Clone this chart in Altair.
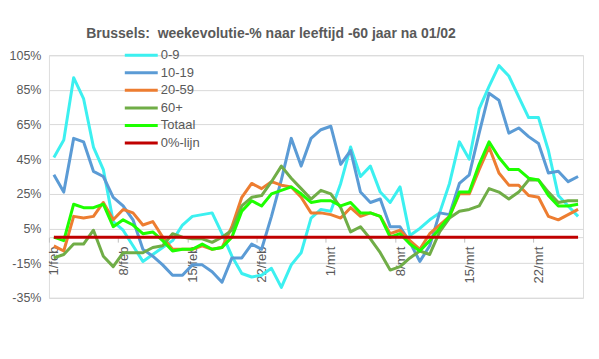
import altair as alt
import pandas as pd

# categories (one per day, 1 feb - 26 mrt)
dates = [f"{d}/feb" for d in range(1, 29)] + [f"{d}/mrt" for d in range(1, 27)]
tick_labels = ["1/feb", "8/feb", "15/feb", "22/feb", "1/mrt", "8/mrt", "15/mrt", "22/mrt"]
y_ticks = [-35, -15, 5, 25, 45, 65, 85, 105]

series_names = ["0-9", "10-19", "20-59", "60+", "Totaal", "0%-lijn"]
series_colors = ["#3CF0F0", "#5B9BD5", "#ED7D31", "#70AD47", "#1EFF00", "#C00000"]

v_0_9 = [46, 56, 92, 80, 52, 39, 9, 4, -5, -14, -10, -6, -2, 7, 12, 13, 14, 2, -11, -21,
         -23, -22, -18, -29, -16, -9, 11, 16, 15, 31, 52, 35, 41, 26, 20, 29, 1, 5, 10, 14,
         31, 55, 45, 74, 87, 99, 93, 81, 69, 69, 50, 24, 18, 12]
v_10_19 = [36, 26, 57, 55, 38, 35, 23, 18, 10, -7, -11, -16, -22, -22, -16, -16, -20, -26, -12, -12,
           -4, -7, 12, 33, 57, 41, 57, 62, 64, 42, 50, 26, 20, 22, 6, 6, -3, -14, -5, 14,
           13, 31, 36, 60, 83, 79, 60, 63, 58, 54, 37, 38, 32, 35]
v_20_59 = [-5, -8, 12, 11, 12, 20, 10, 16, 14, 7, 9, 0, -7, -7, -7, -5, -7, -6, 6, 23,
           31, 28, 32, 30, 29, 23, 14, 14, 13, 11, 17, 12, 14, 12, 2, 4, -2, -7, 2, 7,
           12, 25, 25, 39, 52, 37, 30, 30, 24, 23, 12, 10, 13, 16]
v_60p = [-12, -10, -4, -4, 4, -11, -17, -9, -9, -9, -6, -5, 2, 0, -1, -1, -3, 0, 4, 18,
         23, 24, 32, 41, 34, 28, 22, 27, 25, 17, 3, 6, -1, -9, -19, -17, -12, -8, -10, 3,
         11, 15, 16, 18, 28, 26, 22, 26, 33, 33, 26, 20, 21, 21]
v_totaal = [0, -2, 19, 17, 17, 19, 6, 10, 7, 2, 3, -2, -8, -7, -7, -4, -7, -6, 0, 15,
            21, 18, 25, 27, 29, 25, 20, 21, 21, 18, 20, 14, 14, 12, 0, 2, -4, -8, -2, 5,
            12, 26, 26, 42, 55, 46, 39, 39, 34, 33, 24, 18, 18, 19]
# 0%-lijn: from first to last day
zero_dates = ["1/feb", "26/mrt"]
zero_vals = [0, 0]

rows = []
for name, vals in zip(series_names[:5], [v_0_9, v_10_19, v_20_59, v_60p, v_totaal]):
    for d, v in zip(dates, vals):
        rows.append({"datum": d, "serie": name, "waarde": v})
for d, v in zip(zero_dates, zero_vals):
    rows.append({"datum": d, "serie": "0%-lijn", "waarde": v})
df = pd.DataFrame(rows)

FONT = "Liberation Sans"
GREY = "#595959"
H = 243

chart = alt.Chart(df).mark_line(strokeJoin="round").encode(
    x=alt.X("datum:O", sort=dates,
            scale=alt.Scale(type="point", padding=0.5),
            axis=alt.Axis(values=tick_labels, title=None, grid=False,
                          labelAngle=-90, labelAlign="right", labelBaseline="middle",
                          labelFont=FONT, labelFontSize=13, labelColor=GREY,
                          offset=-H * 35 / 140, domainColor="#d9d9d9",
                          tickColor="#bfbfbf", tickSize=5, tickOffset=-5, labelOffset=5,
                          labelPadding=4)),
    y=alt.Y("waarde:Q",
            scale=alt.Scale(domain=[-35, 105], nice=False, zero=False),
            axis=alt.Axis(values=y_ticks, labelExpr="datum.value + '%'", title=None,
                          grid=True, gridColor="#d9d9d9", domain=False, ticks=False,
                          tickSize=0, labelPadding=8, labelFont=FONT, labelFontSize=12.5,
                          labelColor=GREY)),
    color=alt.Color("serie:N", sort=series_names,
                    scale=alt.Scale(domain=series_names, range=series_colors),
                    legend=alt.Legend(orient="none", legendX=74.5, legendY=-6.5, title=None,
                                      symbolType="stroke", symbolSize=1089,
                                      symbolStrokeWidth=3, labelFont=FONT,
                                      labelFontSize=13, labelColor=GREY, clipHeight=13,
                                      rowPadding=3.6, labelOffset=1.5, padding=0)),
    strokeWidth=alt.StrokeWidth("serie:N",
                                scale=alt.Scale(domain=series_names,
                                                range=[3, 3, 3, 3, 3, 2.5]),
                                legend=None),
).properties(
    width=535,
    height=H,
    padding={"left": 41, "top": 47, "right": 8, "bottom": 45},
    autosize=alt.AutoSizeParams(type="none"),
    title=alt.TitleParams("Brussels:\u00a0 weekevolutie-% naar leeftijd -60 jaar na 01/02",
                          font=FONT, fontSize=14, fontWeight="bold", color=GREY,
                          anchor="middle", dx=-45, baseline="alphabetic", offset=24,
                          dy=27),
).configure_view(strokeWidth=0).configure(background="white")

chart.save("out.html", embed_options={"renderer": "svg", "actions": False})
